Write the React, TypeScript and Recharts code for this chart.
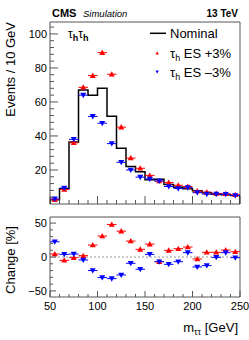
import React from 'react';
import { ComposedChart, Line, Scatter, XAxis, YAxis, ReferenceArea, ReferenceLine, ErrorBar } from 'recharts';

// ---- data ----
const binLowEdges = [50, 60, 70, 80, 90, 100, 110, 120, 130, 140, 150, 160, 170, 180, 190, 200, 210, 220, 230, 240];
const binCenters = [55, 65, 75, 85, 95, 105, 115, 125, 135, 145, 155, 165, 175, 185, 195, 205, 215, 225, 235, 245];
const upperEdge = 250;
const halfBin = 5;
const nominal = [2.5, 9, 36.5, 67, 64, 68, 51.6, 32.8, 22, 19, 14.2, 14.5, 11.5, 9.8, 9, 7.8, 6.6, 5.8, 5.4, 5];
const esUp = [2.6, 8.6, 36, 68.6, 75.5, 89, 76.3, 45.2, 27, 21, 16.8, 13.5, 12.6, 11, 10.3, 7.6, 7.0, 6.2, 6.0, 5.4];
const esDown = [3.0, 9.4, 38, 64, 51.5, 47.5, 35.5, 24.5, 20, 15.8, 14.7, 13.5, 10.3, 9.1, 9.6, 6.7, 5.8, 5.8, 5.7, 5.0];
const changeUp = [4.4, -4.9, -1, 2, 17.6, 30.9, 48, 38.2, 23.5, 11.3, 19, -6.9, 9.8, 12.3, 14.7, -2.9, 6.9, 6.9, 10.3, 7.8];
const changeDown = [22.5, 3.9, 4.4, -4.4, -20, -30.4, -31.9, -26.5, -9.3, -18.1, 3.9, -6.9, -10.8, -6.9, 6.4, -14.7, -12.7, -0.5, 6.4, -1];

const xMajor = [50, 100, 150, 200, 250];
const xMinor = [60, 70, 80, 90, 110, 120, 130, 140, 160, 170, 180, 190, 210, 220, 230, 240];
const upperYMajor = [20, 40, 60, 80, 100];
const upperYMinor = [4, 8, 12, 16, 24, 28, 32, 36, 44, 48, 52, 56, 64, 68, 72, 76, 84, 88, 92, 96, 104];
const lowerYMajor = [-50, 0, 50];
const lowerYMinor = [-40, -30, -20, -10, 10, 20, 30, 40];
const upperYDomain = [0, 107];
const lowerYDomain = [-59, 59];
const xDomain = [50, 250];

const FONT = '"Liberation Sans", Arial, Helvetica, sans-serif';
const RED = '#ff0000';
const BLUE = '#0000ff';
const FRAME = '#555555';

const fmt = (v: number) => (v < 0 ? '\u2212' + Math.abs(v) : String(v));
const merge = (a: number[], b: number[]) => [...a, ...b].sort((p, q) => p - q);

const makeYTick = (major: number[], majLen: number, minLen: number, gap: number) => (p: any) => {
  const v = p.payload.value;
  const isMajor = major.includes(v);
  const ax = p.x + gap;
  return (
    <g>
      <line x1={ax} x2={ax + (isMajor ? majLen : minLen)} y1={p.y} y2={p.y} stroke={FRAME} strokeWidth={1} />
      {isMajor && (
        <text x={p.x} y={p.y} dy="0.35em" textAnchor="end" fontSize={11} fontFamily={FONT} fill="#000">
          {fmt(v)}
        </text>
      )}
    </g>
  );
};
const makeXTick = (major: number[], majLen: number, minLen: number, labels: boolean, gap: number) => (p: any) => {
  const v = p.payload.value;
  const isMajor = major.includes(v);
  const ay = p.y - gap;
  return (
    <g>
      <line x1={p.x} x2={p.x} y1={ay} y2={ay - (isMajor ? majLen : minLen)} stroke={FRAME} strokeWidth={1} />
      {labels && isMajor && (
        <text x={p.x} y={p.y} dy="0.71em" textAnchor="middle" fontSize={11} fontFamily={FONT} fill="#000">
          {fmt(v)}
        </text>
      )}
    </g>
  );
};

const UpperYTick = makeYTick(upperYMajor, 8, 4, 3);
const LowerYTick = makeYTick(lowerYMajor, 6, 3, 3);
const UpperXTick = makeXTick(xMajor, 8, 4, false, 0);
const LowerXTick = makeXTick(xMajor, 6, 3, true, 5);

const TriUp = (props: any) => {
  const { cx, cy } = props;
  if (cx == null || cy == null) return null;
  return <polygon points={`${cx - 3},${cy + 2.3} ${cx + 3},${cy + 2.3} ${cx},${cy - 3}`} fill={RED} />;
};
const TriDown = (props: any) => {
  const { cx, cy } = props;
  if (cx == null || cy == null) return null;
  return <polygon points={`${cx - 3},${cy - 2.3} ${cx + 3},${cy - 2.3} ${cx},${cy + 3}`} fill={BLUE} />;
};

export default function App() {
  const stepData = [
    { x: binLowEdges[0], y: 0 },
    ...binLowEdges.map((x, i) => ({ x, y: nominal[i] })),
    { x: upperEdge, y: nominal[nominal.length - 1] },
    { x: upperEdge, y: 0 },
  ];
  const upData = binCenters.map((x, i) => ({ x, y: esUp[i], ex: halfBin }));
  const downData = binCenters.map((x, i) => ({ x, y: esDown[i], ex: halfBin }));
  const upChangeData = binCenters.map((x, i) => ({ x, y: changeUp[i], ex: halfBin }));
  const downChangeData = binCenters.map((x, i) => ({ x, y: changeDown[i], ex: halfBin }));
  const xTicks = merge(xMajor, xMinor);

  return (
    <div style={{ position: 'absolute', left: 0, top: 0, width: 249, height: 340, background: '#fff', overflow: 'hidden' }}>
      <div style={{ position: 'absolute', left: 0, top: 0 }}>
        <ComposedChart width={249} height={210} margin={{ top: 22, right: 9, bottom: 0, left: 0 }}>
          <XAxis type="number" dataKey="x" domain={xDomain} ticks={xTicks} height={6} tickSize={0} tickMargin={0} tick={UpperXTick} axisLine={false} tickLine={false} interval={0} allowDataOverflow />
          <YAxis type="number" domain={upperYDomain} ticks={merge(upperYMajor, upperYMinor)} width={50} tickSize={0} tickMargin={3} axisLine={false} tick={UpperYTick} tickLine={false} interval={0} allowDataOverflow />
          <Line data={stepData} dataKey="y" type="stepAfter" stroke="#000" strokeWidth={1.5} dot={false} isAnimationActive={false} />
          <Scatter data={upData} dataKey="y" fill={RED} shape={TriUp} isAnimationActive={false}>
            <ErrorBar dataKey="ex" direction="x" width={0} stroke={RED} strokeWidth={1} isAnimationActive={false} />
          </Scatter>
          <Scatter data={downData} dataKey="y" fill={BLUE} shape={TriDown} isAnimationActive={false}>
            <ErrorBar dataKey="ex" direction="x" width={0} stroke={BLUE} strokeWidth={1} isAnimationActive={false} />
          </Scatter>
          <ReferenceArea x1={xDomain[0]} x2={xDomain[1]} y1={upperYDomain[0]} y2={upperYDomain[1]} fill="none" stroke={FRAME} strokeWidth={1} fillOpacity={0} ifOverflow="visible" />
        </ComposedChart>
      </div>
      <div style={{ position: 'absolute', left: 0, top: 210 }}>
        <ComposedChart width={249} height={130} margin={{ top: 7, right: 9, bottom: 0, left: 0 }}>
          <XAxis type="number" dataKey="x" domain={xDomain} ticks={xTicks} height={43} tickSize={0} tickMargin={5} tick={LowerXTick} axisLine={false} tickLine={false} interval={0} allowDataOverflow />
          <YAxis type="number" domain={lowerYDomain} ticks={merge(lowerYMajor, lowerYMinor)} width={50} tickSize={0} tickMargin={3} axisLine={false} tick={LowerYTick} tickLine={false} interval={0} allowDataOverflow />
          <ReferenceLine y={0} stroke="#999" strokeWidth={1} strokeDasharray="2 2" />
          <Scatter data={upChangeData} dataKey="y" fill={RED} shape={TriUp} isAnimationActive={false}>
            <ErrorBar dataKey="ex" direction="x" width={0} stroke={RED} strokeWidth={1} isAnimationActive={false} />
          </Scatter>
          <Scatter data={downChangeData} dataKey="y" fill={BLUE} shape={TriDown} isAnimationActive={false}>
            <ErrorBar dataKey="ex" direction="x" width={0} stroke={BLUE} strokeWidth={1} isAnimationActive={false} />
          </Scatter>
          <ReferenceArea x1={xDomain[0]} x2={xDomain[1]} y1={lowerYDomain[0]} y2={lowerYDomain[1]} fill="none" stroke={FRAME} strokeWidth={1} fillOpacity={0} ifOverflow="visible" />
        </ComposedChart>
      </div>
      <svg style={{ position: 'absolute', left: 0, top: 0, pointerEvents: 'none' }} width={249} height={340} fontFamily={FONT}>
        <text x={52} y={17.3} fontSize={11} fontWeight="bold" fill="#000">CMS</text>
        <text x={83} y={17.3} fontSize={9.5} fontStyle="italic" fill="#000">Simulation</text>
        <text x={238} y={17.3} fontSize={10} fontWeight="bold" fill="#000" textAnchor="end">13 TeV</text>
        <text x={68} y={38} fontSize={12} fill="#000">
          τ<tspan fontSize={9} dy={3} fontWeight="bold">h</tspan><tspan dy={-3}>τ</tspan><tspan fontSize={9} dy={3} fontWeight="bold">h</tspan>
        </text>
        <line x1={150} y1={33.3} x2={166} y2={33.3} stroke="#000" strokeWidth={1.5} />
        <text x={170} y={38.3} fontSize={13} fill="#000">Nominal</text>
        <polygon points="155.5,54.6 158.9,54.6 157.2,51.6" fill={RED} />
        <text x={170} y={58.3} fontSize={13} fill="#000">
          τ<tspan fontSize={9} dy={3}>h</tspan><tspan dy={-3}> ES +3%</tspan>
        </text>
        <polygon points="155.5,70.4 158.9,70.4 157.2,73.4" fill={BLUE} />
        <text x={170} y={76.7} fontSize={13} fill="#000">
          τ<tspan fontSize={9} dy={3}>h</tspan><tspan dy={-3}> ES –3%</tspan>
        </text>
        <text transform="translate(15,22) rotate(-90)" fontSize={13} fill="#000" textAnchor="end">Events / 10 GeV</text>
        <text transform="translate(15,260) rotate(-90)" fontSize={13} fill="#000" textAnchor="middle">Change [%]</text>
        <text x={238} y={332} fontSize={13} fill="#000" textAnchor="end">
          m<tspan fontSize={9} dy={3}>ττ</tspan><tspan dy={-3}> [GeV]</tspan>
        </text>
      </svg>
    </div>
  );
}
